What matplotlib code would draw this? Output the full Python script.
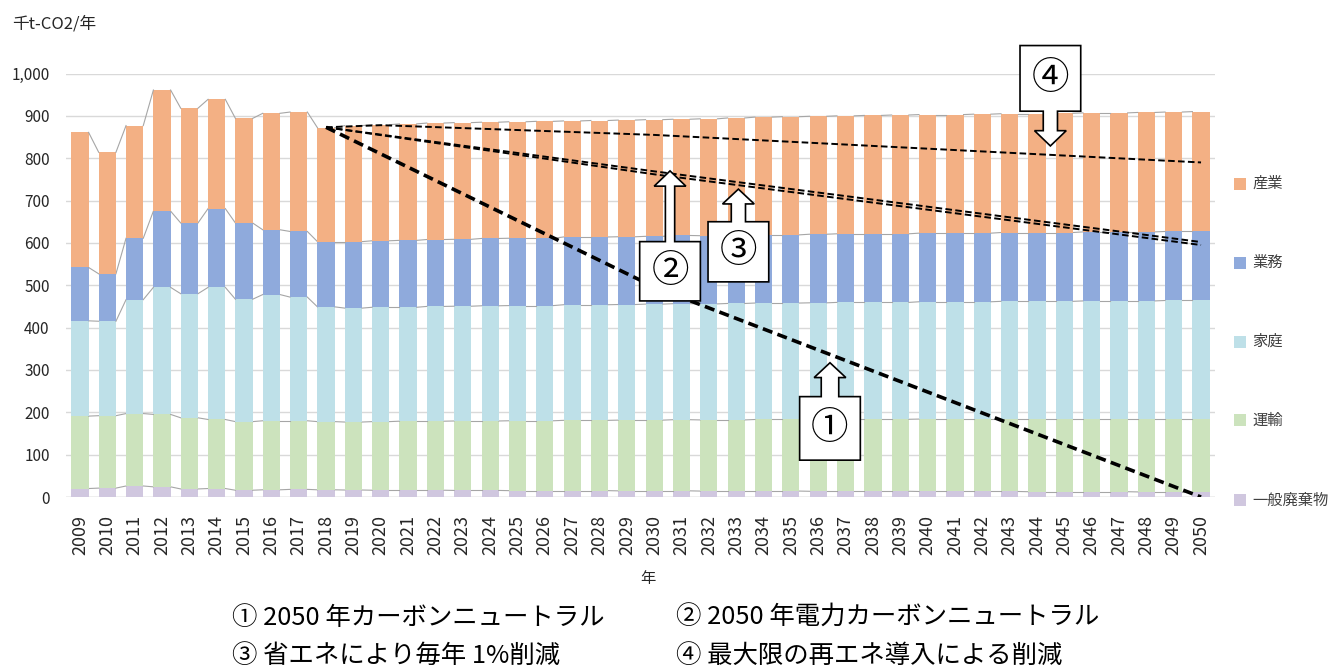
import matplotlib
matplotlib.use('Agg')
import matplotlib.pyplot as plt
from matplotlib.patches import Polygon, Rectangle
from matplotlib.ticker import FuncFormatter

plt.rcParams['font.family'] = ['Noto Sans CJK JP', 'DejaVu Sans']

# --- data (千t-CO2/年) ---
years = list(range(2009, 2051))

waste = [20, 21, 26, 24, 19, 20, 16, 17, 18, 17,
         16.5, 16, 16, 16, 15.5, 15.5, 15, 15, 15, 15,
         14.5, 14.5, 14.5, 14, 14, 14, 14, 13.5, 13.5, 13.5,
         13.5, 13, 13, 13, 13, 12.5, 12.5, 12.5, 12.5, 12, 12, 12]
transport = [171, 171, 171, 171, 168, 163, 162, 163, 162, 161,
             160.5, 162, 163, 163, 164, 164, 165, 165, 166, 166,
             167, 167, 168, 168, 168, 169, 169, 169, 170, 170,
             170, 171, 171, 171, 171, 171.5, 171.5, 171.5, 171.5, 172, 172, 172]
household = [225, 223, 269, 300, 293, 312, 289, 298, 292, 271,
             269, 270, 269, 271, 271, 272, 272, 272, 273, 273,
             273, 274, 274, 274, 275, 275, 275, 276, 276, 276,
             276, 277, 277, 277, 278, 278, 278, 279, 279, 279, 280, 280]
business = [126, 112, 145, 180, 167, 186, 180, 153, 155, 154,
            157, 157, 158, 158, 158, 159, 159, 159, 160, 160,
            160, 160, 161, 161, 161, 161, 161, 162, 162, 162,
            162, 162, 162, 162, 162.5, 162.5, 162.5, 163, 163, 163, 163, 163]
industry = [319, 287, 266, 286, 271, 258, 247, 275, 282, 269,
            274, 274, 275, 275, 275.5, 274.5, 275, 276, 274, 275,
            275.5, 275.5, 274.5, 276, 277, 278, 279, 278.5, 278.5, 279.5,
            280.5, 280, 280, 281, 280.5, 280.5, 281.5, 281, 281, 282, 282, 283]

series_names = ['一般廃棄物', '運輸', '家庭', '業務', '産業']
series_colors = ['#D0C7DF', '#CCE3BD', '#BEE0E8', '#8FAADC', '#F3B084']

# scenario lines from 2018
cn_years, cn_vals = [2018, 2030, 2050], [873, 496, 0]
power_years, power_vals = [2018, 2030, 2050], [873, 769, 602]
save_years, save_vals = [2018, 2030, 2050], [873, 762, 595]
re_years, re_vals = [2018, 2020, 2030, 2050], [873, 878, 855, 790]

captions = ['① 2050 年カーボンニュートラル', '② 2050 年電力カーボンニュートラル',
            '③ 省エネにより毎年 1%削減', '④ 最大限の再エネ導入による削減']

W, H = 1330, 668
fig = plt.figure(figsize=(W / 100, H / 100), dpi=100)
ax = fig.add_axes([66.3 / W, 1 - 497 / H, 1148.4 / W, 423.5 / H])

# stacked bars
bar_w = 0.63
stack = [waste, transport, household, business, industry]
bottom = [0.0] * len(years)
for vals, name, col in zip(stack, series_names, series_colors):
    ax.bar(years, vals, bar_w, bottom=bottom, color=col, label=name, zorder=2)
    bottom = [b + v for b, v in zip(bottom, vals)]
    # excel style series lines between bars
    for i in range(len(years) - 1):
        ax.plot([years[i] + bar_w / 2, years[i + 1] - bar_w / 2],
                [bottom[i], bottom[i + 1]], color='#A6A6A6', lw=0.8, zorder=2)

# scenario lines
ax.plot(cn_years, cn_vals, color='black', lw=2.6, dashes=(2.8, 1.5), zorder=4)
for yy, vv in [(power_years, power_vals), (save_years, save_vals), (re_years, re_vals)]:
    ax.plot(yy, vv, color='black', lw=1.4, dashes=(3.4, 1.7), zorder=4)


def callout(x, tip, base, near, far, shaft_hw, label, head_hw=0.58, box_hw=1.11):
    pts = [(x - box_hw, far), (x + box_hw, far), (x + box_hw, near),
           (x + shaft_hw, near), (x + shaft_hw, base), (x + head_hw, base),
           (x, tip), (x - head_hw, base), (x - shaft_hw, base),
           (x - shaft_hw, near), (x - box_hw, near)]
    ax.add_patch(Polygon(pts, closed=True, facecolor='white', edgecolor='black',
                         lw=1.2, zorder=6, clip_on=False))
    ax.text(x, (near + far) / 2, label, ha='center', va='center', fontsize=27,
            zorder=7, clip_on=False)


callout(2036.43, 317, 282, 237, 87, 0.32, '①')
callout(2030.58, 770, 734, 603, 463, 0.17, '②')
callout(2033.08, 727, 692, 650, 508, 0.26, '③')
callout(2044.49, 829, 865, 911, 1066, 0.26, '④')

# axes styling
ax.set_xlim(2008.5, 2050.5)
ax.set_ylim(0, 1000)
ax.set_xticks(years)
ax.set_xticklabels([str(y) for y in years], rotation=90, fontsize=13)
ax.set_yticks(range(0, 1001, 100))
ax.yaxis.set_major_formatter(FuncFormatter(lambda v, p: '{:,}'.format(int(v))))
ax.tick_params(axis='x', length=0, pad=13, colors='#262626')
ax.tick_params(axis='y', length=0, pad=12, labelsize=11, colors='#262626')
ax.grid(axis='y', color='#D9D9D9', lw=1, zorder=0)
ax.set_axisbelow(True)
for s in ax.spines.values():
    s.set_visible(False)
ax.axhline(0, color='#D0D0D0', lw=1, zorder=1)

fig.text(12 / W, 1 - 24 / H, '千t-CO2/年', fontsize=12, va='center', color='#262626')
fig.text(648 / W, 1 - 578 / H, '年', fontsize=11, ha='center', va='center', color='#262626')

# legend, top to bottom
leg_y = [183.7, 262.7, 341.5, 420, 500]
for name, col, yc in zip(series_names[::-1], series_colors[::-1], leg_y):
    fig.patches.append(Rectangle((1234 / W, 1 - (yc + 6) / H), 11.7 / W, 12 / H,
                                 facecolor=col, edgecolor='none', transform=fig.transFigure))
    fig.text(1252 / W, 1 - yc / H, name, fontsize=11, va='center', color='#404040')

# captions under chart
cap_pos = [(232, 618), (676, 618), (232, 656), (676, 656)]
for txt, (px, py) in zip(captions, cap_pos):
    fig.text(px / W, 1 - py / H, txt, fontsize=18.3, va='center', color='black')

fig.savefig('out.png', dpi=100)
